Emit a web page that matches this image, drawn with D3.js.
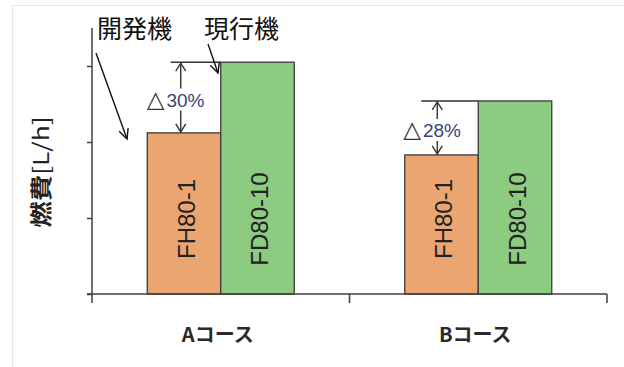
<!DOCTYPE html>
<html>
<head>
<meta charset="utf-8">
<script src="https://cdn.jsdelivr.net/npm/d3@7/dist/d3.min.js"></script>
<style>
html,body{margin:0;padding:0;background:#fff;}
svg{display:block;}
</style>
</head>
<body>
<svg id="chart" width="624" height="367"></svg>
<script>
const categories = ["Aコース", "Bコース"];
const series = ["開発機", "現行機"];
const models = ["FH80-1", "FD80-10"];
const devValues = [2.12, 1.83];
const curValues = [3.05, 2.54];
const reductions = ["30%", "28%"];
const yTicks = [0, 1, 2, 3];

const svg = d3.select("#chart");

// light frame
svg.append("rect").attr("x", 12.5).attr("y", 5.5).attr("width", 640).attr("height", 400)
  .attr("fill", "none").attr("stroke", "#e6e6e6").attr("stroke-width", 1);

const x0 = d3.scaleBand().domain(categories).range([92, 607]);
const x1 = d3.scaleBand().domain(series).range([-73.5, 73.5]);
const y = d3.scaleLinear().domain([0, 3.5]).range([294, 28]);

const axisColor = "#404040";

const data = categories.map((c, i) => ({
  cat: c,
  vals: [
    {s: series[0], v: devValues[i], m: models[0], fill: "#EBA570"},
    {s: series[1], v: curValues[i], m: models[1], fill: "#8CCB80"}
  ],
  red: reductions[i]
}));

// bars
const g = svg.append("g");
const groups = g.selectAll("g.grp").data(data).join("g")
  .attr("transform", d => `translate(${x0(d.cat) + x0.bandwidth() / 2},0)`);
groups.selectAll("rect").data(d => d.vals).join("rect")
  .attr("x", d => x1(d.s))
  .attr("y", d => y(d.v))
  .attr("width", x1.bandwidth())
  .attr("height", d => y(0) - y(d.v))
  .attr("fill", d => d.fill)
  .attr("stroke", "#3a3a3a")
  .attr("stroke-width", 1.3);
groups.selectAll("text.model").data(d => d.vals).join("text")
  .attr("class", "model")
  .attr("transform", d => `translate(${x1(d.s) + x1.bandwidth() / 2 + 2},${y(0) - 75}) rotate(-90)`)
  .attr("text-anchor", "middle")
  .attr("dominant-baseline", "central")
  .attr("font-family", "Liberation Sans, Arial, sans-serif")
  .attr("font-size", 24)
  .attr("fill", "#222")
  .text(d => d.m);

// y axis
const yAxis = d3.axisLeft(y).tickValues(yTicks).tickSize(5).tickFormat("");
const ya = svg.append("g").attr("transform", "translate(92,0)").call(yAxis);
ya.selectAll("path,line").attr("stroke", axisColor).attr("stroke-width", 1.5);
ya.select("path").attr("d", `M-5,${y(0)}H0V${y(3.5)}`);

// x axis
const xAxis = d3.axisBottom(x0).tickSize(0).tickFormat("");
const xa = svg.append("g").attr("transform", `translate(0,${y(0)})`).call(xAxis);
xa.select("path").attr("stroke", axisColor).attr("stroke-width", 1.5)
  .attr("d", `M92,0H607`);
xa.selectAll(".tick").remove();
const bounds = [92].concat(categories.map(c => x0(c) + x0.bandwidth()));
svg.append("g").selectAll("line").data(bounds).join("line")
  .attr("x1", d => d).attr("x2", d => d)
  .attr("y1", y(0)).attr("y2", y(0) + 9)
  .attr("stroke", axisColor).attr("stroke-width", 1.5);

// category labels
svg.append("g").selectAll("text").data(categories).join("text")
  .attr("x", d => x0(d) + x0.bandwidth() / 2 - 3)
  .attr("y", 342)
  .attr("text-anchor", "middle")
  .attr("font-family", "Noto Sans CJK JP, sans-serif")
  .attr("font-weight", "bold")
  .attr("font-size", 20)
  .attr("fill", "#2a2a2a")
  .text(d => d);

// y axis title
const yt = svg.append("text")
  .attr("transform", `translate(49,172) rotate(-90) scale(1.2,1)`)
  .attr("text-anchor", "middle")
  .attr("font-family", "Noto Sans CJK JP, sans-serif")
  .attr("font-size", 22)
  .attr("fill", "#222");
yt.append("tspan").attr("font-weight", "bold").text("燃費");
yt.append("tspan").attr("font-weight", "normal").text("[L/h]");

// annotations
const ann = svg.append("g").attr("stroke", "#333").attr("stroke-width", 1.4).attr("fill", "none");
const annOffsets = [{lineStart: 50, arrowX: 40}, {lineStart: 57, arrowX: 41}];
data.forEach((d, i) => {
  const cx = x0(d.cat) + x0.bandwidth() / 2;
  const gx = cx + x1(series[1]);
  const yt = y(d.vals[1].v), yb = y(d.vals[0].v);
  const ax = gx - annOffsets[i].arrowX;
  ann.append("line").attr("x1", gx - annOffsets[i].lineStart).attr("x2", gx).attr("y1", yt).attr("y2", yt);
  ann.append("line").attr("x1", ax).attr("x2", ax).attr("y1", yt + 1).attr("y2", yb - 1);
  ann.append("path").attr("d", `M${ax - 5},${yt + 9}L${ax},${yt + 1}L${ax + 5},${yt + 9}`);
  ann.append("path").attr("d", `M${ax - 5},${yb - 9}L${ax},${yb - 1}L${ax + 5},${yb - 9}`);
  const ty = (yt + yb) / 2 + 2;
  svg.append("rect").attr("x", ax - 33).attr("y", ty - 11).attr("width", 66).attr("height", 22).attr("fill", "#fff");
  const t = svg.append("text")
    .attr("x", ax - 34).attr("y", ty + 7)
    .attr("font-family", "Liberation Sans, Arial, sans-serif")
    .attr("font-size", 19);
  t.append("tspan").attr("fill", "#333").attr("font-family", "DejaVu Sans, sans-serif").attr("font-size", 23).text("△");
  t.append("tspan").attr("fill", "#3b3f75").attr("dx", 2).text(d.red);
});

// series callouts
svg.append("text").attr("x", 97).attr("y", 38)
  .attr("font-family", "Noto Sans CJK JP, sans-serif").attr("font-size", 25).attr("fill", "#111")
  .text(series[0]);
svg.append("text").attr("x", 204).attr("y", 38)
  .attr("font-family", "Noto Sans CJK JP, sans-serif").attr("font-size", 25).attr("fill", "#111")
  .text(series[1]);
function arrow(x1p, y1p, x2p, y2p) {
  const a = Math.atan2(y2p - y1p, x2p - x1p);
  const L = 11, sp = 0.45;
  ann.append("line").attr("x1", x1p).attr("y1", y1p).attr("x2", x2p).attr("y2", y2p).attr("stroke", "#111");
  ann.append("path").attr("stroke", "#111")
    .attr("d", `M${x2p - L * Math.cos(a - sp)},${y2p - L * Math.sin(a - sp)}L${x2p},${y2p}L${x2p - L * Math.cos(a + sp)},${y2p - L * Math.sin(a + sp)}`);
}
arrow(96, 53, 127, 139);
arrow(208, 44, 218, 73);
</script>
</body>
</html>
